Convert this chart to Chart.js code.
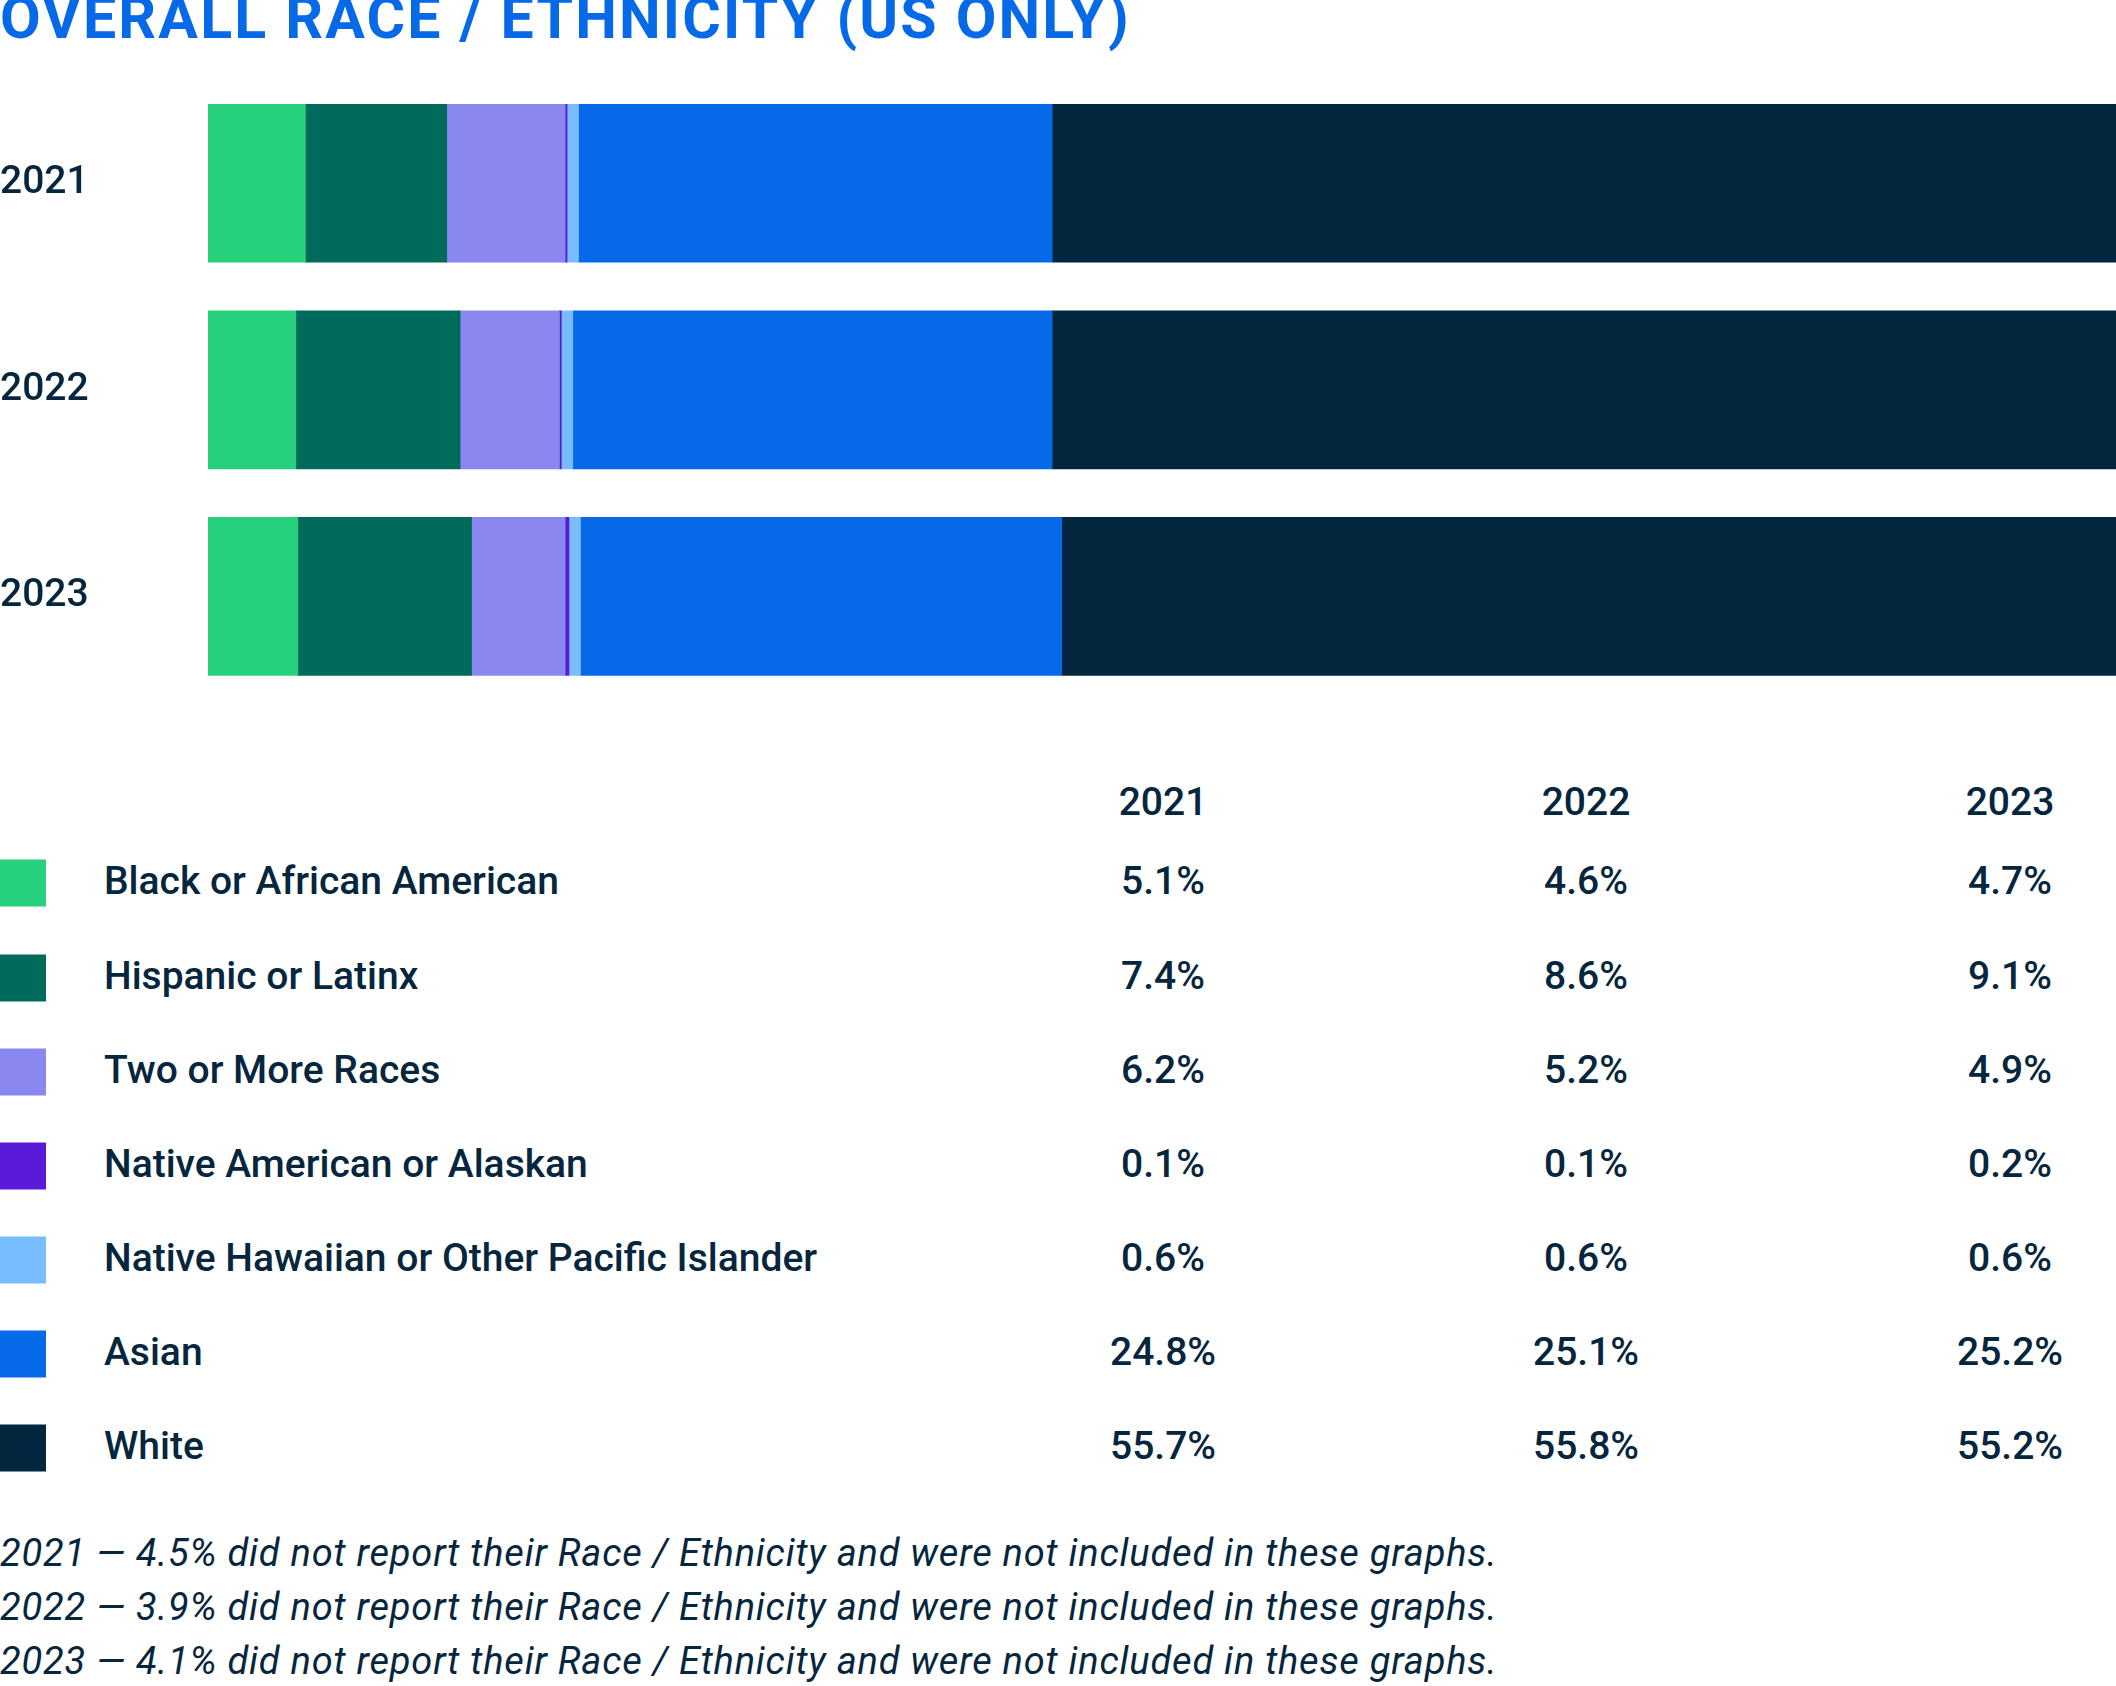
<!DOCTYPE html>
<html>
<head>
<meta charset="utf-8">
<script src="https://cdn.jsdelivr.net/npm/chart.js@4"></script>
<style>
  html, body { margin: 0; padding: 0; background: #fff; }
  body { width: 2116px; height: 1686px; position: relative; overflow: hidden; font-family: Roboto, "Noto Sans", sans-serif; color: #06263d; }
  #title { position: absolute; left: 0; top: -12px; font-size: 59px; line-height: 59px; font-weight: 700; color: #0669e8; white-space: nowrap; }
  #chartBox { position: absolute; left: 0; top: 0; width: 2116px; height: 723px; }
  .t { position: absolute; font-size: 39px; line-height: 39px; font-weight: 500; white-space: nowrap; transform: translateY(-50%); }
  .c { transform: translate(-50%, -50%); }
  .sw { position: absolute; left: 0; width: 46px; height: 47px; transform: translateY(-50%); }
  .note { position: absolute; left: 0; font-size: 38px; line-height: 38px; font-style: italic; font-weight: 400; letter-spacing: 0.8px; white-space: nowrap; transform: translateY(-50%); }
</style>
</head>
<body>
<div id="title">OVERALL RACE / ETHNICITY (US ONLY)</div>
<div id="chartBox"><canvas id="raceChart"></canvas></div>
<div id="table"></div>
<script>
const years = ['2021', '2022', '2023'];
const groups = [
  'Black or African American',
  'Hispanic or Latinx',
  'Two or More Races',
  'Native American or Alaskan',
  'Native Hawaiian or Other Pacific Islander',
  'Asian',
  'White'
];
const black    = [5.1, 4.6, 4.7];
const hispanic = [7.4, 8.6, 9.1];
const twoPlus  = [6.2, 5.2, 4.9];
const nativeAm = [0.1, 0.1, 0.2];
const hawaiian = [0.6, 0.6, 0.6];
const asian    = [24.8, 25.1, 25.2];
const white    = [55.7, 55.8, 55.2];
const notReported = [4.5, 3.9, 4.1];

const colors = ['#26d07c', '#006b5b', '#8b87f0', '#5a1bd8', '#78bdfe', '#0669e8', '#02263e'];
const series = [black, hispanic, twoPlus, nativeAm, hawaiian, asian, white];

// title spacing so it spans the same width as the original
const title = document.getElementById('title');
const tw = title.getBoundingClientRect().width;
title.style.letterSpacing = ((1131 - tw) / title.textContent.length) + 'px';

const ctx = document.getElementById('raceChart').getContext('2d');
const raceChart = new Chart(ctx, {
  type: 'bar',
  data: {
    labels: years,
    datasets: series.map((d, i) => ({
      label: groups[i],
      data: d,
      backgroundColor: colors[i],
      borderWidth: 0,
      barThickness: 158
    }))
  },
  options: {
    indexAxis: 'y',
    responsive: true,
    maintainAspectRatio: false,
    animation: false,
    layout: { padding: { top: 80, bottom: 0, left: 0, right: 0 } },
    scales: {
      x: { stacked: true, display: false, min: 0, max: 99.9 },
      y: {
        stacked: true,
        grid: { display: false },
        border: { display: false },
        ticks: {
          crossAlign: 'far',
          padding: 0,
          color: '#06263d',
          font: { family: 'Roboto', size: 39, weight: '500' }
        },
        afterFit: s => { s.width = 208; }
      }
    },
    plugins: {
      legend: { display: false },
      tooltip: { enabled: false }
    }
  }
});

// table under the bars
const table = document.getElementById('table');
const colX = [1163, 1586, 2010];
const rowY = [881, 976, 1070, 1164, 1258, 1352, 1446];
let html = '';
years.forEach((y, j) => {
  html += `<div class="t c" style="left:${colX[j]}px;top:802px">${y}</div>`;
});
groups.forEach((g, i) => {
  html += `<div class="sw" style="top:${rowY[i] + 2}px;background:${colors[i]}"></div>`;
  html += `<div class="t" style="left:104px;top:${rowY[i]}px">${g}</div>`;
  series[i].forEach((v, j) => {
    html += `<div class="t c" style="left:${colX[j]}px;top:${rowY[i]}px">${v.toFixed(1)}%</div>`;
  });
});
const noteY = [1553, 1607, 1661];
years.forEach((y, j) => {
  html += `<div class="note" style="top:${noteY[j]}px">${y} — ${notReported[j].toFixed(1)}% did not report their Race / Ethnicity and were not included in these graphs.</div>`;
});
table.innerHTML = html;
</script>
</body>
</html>
